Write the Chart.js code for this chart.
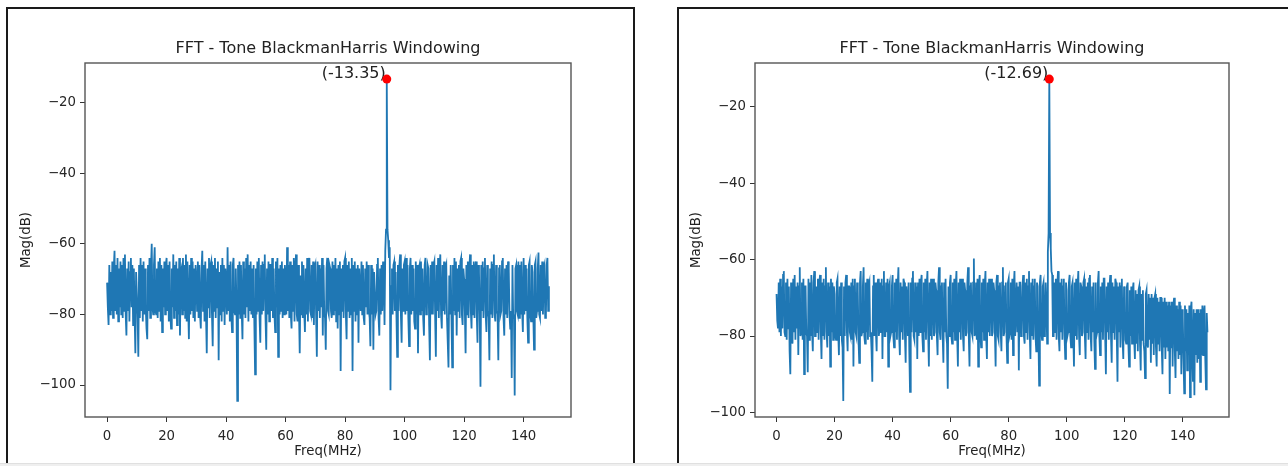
<!DOCTYPE html>
<html>
<head>
<meta charset="utf-8">
<script src="https://cdn.jsdelivr.net/npm/chart.js@4.4.1/dist/chart.umd.min.js"></script>
<style>
  html, body { margin: 0; padding: 0; background: #fff; }
  body { width: 1288px; height: 466px; position: relative; overflow: hidden; }
  .frame { position: absolute; border: 2px solid #1a1a1a; border-bottom: none; box-sizing: border-box; }
  #frameL { left: 6px; top: 7px; width: 629px; height: 457px; }
  #frameR { left: 677px; top: 7px; width: 620px; height: 457px; border-right: none; }
  .strip { position: absolute; left: 0; top: 463px; width: 1288px; height: 3px; background: #efefef; border-top: 1px solid #e0e0e0; }
  canvas { position: absolute; top: 0; filter: blur(0.4px); }
  #chartL { left: 0; }
  #chartR { left: 640px; }
</style>
</head>
<body>
<div class="frame" id="frameL"></div>
<div class="frame" id="frameR"></div>
<div class="strip"></div>
<canvas id="chartL" width="640" height="466"></canvas>
<canvas id="chartR" width="648" height="466"></canvas>
<script>
// tick labels
const xTicks = [0, 20, 40, 60, 80, 100, 120, 140];
const yTicks = [-100, -80, -60, -40, -20];

// FFT bins are 0.25 MHz apart, first bin at 0 MHz
const freqStep = 0.25;

// magnitude (dB) per bin, one row = 5 MHz
const magLeft = [
  -71, -78, -83, -66, -80, -68, -79, -65, -81, -67, -62, -79, -66, -80, -64, -82, -67, -78, -65, -80, // 0
  -66, -81, -64, -79, -63, -80, -86, -67, -79, -65, -82, -68, -64, -78, -66, -83, -67, -80, -91, -68, // 5
  -68, -80, -92, -66, -81, -64, -79, -66, -82, -65, -80, -67, -78, -84, -87, -66, -79, -64, -81, -67, // 10
  -60, -78, -80, -66, -61, -79, -80, -67, -81, -65, -79, -64, -82, -66, -85, -67, -78, -65, -80, -66, // 15
  -64, -79, -66, -82, -65, -80, -84, -67, -78, -63, -81, -66, -79, -65, -83, -67, -80, -64, -86, -68, // 20
  -67, -80, -64, -79, -66, -81, -63, -82, -65, -78, -87, -66, -80, -64, -79, -65, -81, -67, -82, -66, // 25
  -69, -79, -65, -81, -66, -80, -84, -67, -62, -79, -66, -82, -65, -80, -91, -67, -78, -64, -81, -66, // 30
  -65, -80, -89, -66, -79, -64, -81, -67, -78, -65, -93, -68, -80, -66, -82, -64, -79, -66, -83, -67, // 35
  -71, -80, -61, -79, -66, -82, -65, -80, -85, -66, -64, -79, -80, -67, -78, -104.5, -66, -80, -65, -81, // 40
  -66, -79, -87, -65, -80, -67, -81, -64, -78, -63, -82, -66, -79, -65, -80, -67, -81, -66, -83, -97, // 45
  -67, -80, -65, -79, -64, -81, -88, -66, -80, -65, -79, -66, -63, -81, -90, -67, -80, -65, -82, -66, // 50
  -66, -79, -64, -81, -67, -80, -85, -65, -78, -64, -92, -67, -80, -66, -79, -65, -81, -67, -80, -66, // 55
  -70, -80, -61, -79, -66, -81, -65, -80, -84, -66, -79, -64, -82, -67, -63, -80, -82, -66, -79, -91, // 60
  -69, -80, -65, -81, -66, -79, -85, -67, -80, -64, -82, -66, -64, -79, -80, -66, -81, -65, -83, -67, // 65
  -66, -80, -92, -65, -79, -66, -81, -67, -78, -64, -86, -66, -80, -81, -90, -67, -64, -79, -80, -66, // 70
  -67, -79, -81, -65, -80, -66, -79, -64, -82, -67, -84, -66, -80, -65, -96, -67, -79, -66, -81, -65, // 75
  -64, -80, -87, -66, -79, -65, -81, -67, -80, -64, -96, -66, -79, -65, -82, -67, -80, -66, -88, -67, // 80
  -67, -79, -65, -80, -66, -81, -83, -67, -78, -65, -80, -66, -79, -81, -89, -66, -80, -67, -90, -68, // 85
  -68, -80, -79, -66, -64, -81, -86, -67, -80, -66, -79, -65, -70, -83, -62, -56, -13.35, -56, -59, -64, // 90
  -61, -101.5, -72, -67, -80, -66, -65, -79, -68, -80, -92, -66, -79, -66, -63, -80, -88, -67, -79, -66, // 95
  -65, -80, -64, -79, -66, -81, -89, -67, -64, -80, -66, -79, -67, -82, -84, -65, -80, -66, -91, -67, // 100
  -66, -80, -65, -79, -67, -81, -86, -66, -64, -80, -79, -66, -67, -83, -93, -66, -80, -65, -80, -66, // 105
  -65, -80, -92, -66, -79, -64, -81, -67, -63, -80, -84, -66, -79, -65, -80, -67, -66, -81, -88, -95, // 110
  -69, -80, -66, -81, -95, -66, -79, -64, -80, -65, -86, -67, -79, -66, -81, -65, -64, -80, -83, -67, // 115
  -70, -79, -91, -66, -80, -65, -81, -67, -63, -79, -84, -66, -80, -65, -81, -67, -65, -80, -88, -66, // 120
  -68, -80, -100.5, -66, -79, -65, -81, -67, -64, -80, -85, -66, -79, -81, -93, -67, -80, -65, -81, -66, // 125
  -63, -80, -82, -66, -79, -80, -93, -67, -66, -80, -79, -65, -64, -81, -86, -67, -80, -66, -81, -65, // 130
  -67, -80, -84, -79, -98, -66, -81, -80, -103, -67, -66, -79, -80, -65, -81, -66, -80, -65, -79, -85, // 135
  -64, -80, -66, -79, -67, -81, -88, -66, -65, -80, -82, -66, -68, -80, -90, -66, -65, -81, -79, -67, // 140
  -62.5, -80, -81, -66, -79, -65, -80, -67, -66, -81, -80, -66, -64, -79, -72                       // 145
];

// same for the right plot
const magRight = [
  -69, -76, -78, -66, -79, -65, -80, -67, -78, -64, -63, -79, -80, -66, -81, -65, -78, -67, -84, -90, // 0
  -66, -80, -82, -65, -79, -64, -81, -67, -78, -66, -85, -67, -62, -80, -79, -66, -81, -65, -90, -67, // 5
  -67, -79, -80, -89.5, -65, -81, -66, -80, -64, -79, -84, -66, -63, -80, -80, -67, -79, -65, -81, -66, // 10
  -64, -79, -86, -66, -80, -65, -81, -67, -62, -79, -83, -66, -80, -67, -88, -65, -79, -66, -81, -67, // 15
  -69, -80, -81, -66, -65, -79, -85, -67, -80, -66, -81, -83, -97, -67, -80, -66, -64, -79, -84, -67, // 20
  -67, -79, -80, -66, -81, -65, -88, -67, -65, -79, -80, -66, -68, -81, -87, -66, -63, -80, -79, -67, // 25
  -62, -80, -82, -66, -79, -65, -81, -67, -66, -80, -79, -84, -92, -67, -64, -80, -66, -79, -84, -67, // 30
  -65, -80, -78, -66, -79, -65, -86, -67, -63, -80, -80, -66, -79, -65, -88, -67, -66, -80, -79, -67, // 35
  -64, -80, -83, -66, -79, -65, -81, -67, -62, -80, -85, -66, -79, -67, -81, -65, -66, -80, -87, -67, // 40
  -70, -80, -66, -84, -94.6, -66, -79, -65, -63, -80, -81, -66, -79, -67, -86, -66, -80, -65, -79, -66, // 45
  -64, -80, -84, -66, -79, -65, -81, -67, -63, -79, -88, -66, -80, -65, -81, -67, -65, -80, -79, -66, // 50
  -68, -80, -85, -66, -62, -79, -81, -67, -66, -80, -87, -66, -79, -65, -80, -82, -93.8, -67, -80, -66, // 55
  -64, -80, -82, -66, -79, -65, -81, -67, -63, -80, -88, -66, -79, -65, -81, -67, -65, -80, -84, -66, // 60
  -68, -80, -79, -66, -62, -80, -88, -67, -66, -79, -80, -66, -59.7, -80, -79, -66, -81, -65, -88, -67, // 65
  -64, -80, -83, -66, -79, -65, -81, -67, -63, -80, -86, -66, -79, -65, -80, -67, -65, -80, -79, -66, // 70
  -68, -79, -88, -66, -64, -80, -81, -67, -66, -79, -84, -66, -62, -80, -79, -67, -66, -80, -87, -66, // 75
  -65, -80, -79, -66, -81, -65, -85, -67, -63, -80, -80, -66, -79, -67, -89, -66, -66, -80, -79, -67, // 80
  -64, -80, -82, -66, -79, -65, -81, -67, -63, -79, -86, -66, -80, -65, -81, -67, -65, -80, -84, -66, // 85
  -67, -80, -93, -66, -64, -79, -81, -67, -66, -80, -79, -66, -71, -82, -58, -53, -12.69, -53, -57, -63, // 90
  -64, -80, -80, -66, -79, -65, -81, -67, -63, -80, -84, -66, -79, -65, -81, -67, -65, -80, -86, -66, // 95
  -68, -80, -79, -66, -64, -80, -83, -67, -66, -79, -88, -66, -80, -65, -81, -67, -63, -80, -85, -66, // 100
  -67, -80, -79, -66, -65, -80, -86, -67, -79, -66, -81, -65, -64, -80, -84, -67, -79, -66, -81, -88.6, // 105
  -66, -80, -79, -66, -63, -80, -85, -67, -79, -66, -81, -65, -65, -80, -90, -67, -79, -66, -81, -67, // 110
  -64, -80, -87, -66, -79, -67, -81, -65, -66, -80, -92, -67, -79, -66, -83, -67, -65, -81, -86, -67, // 115
  -68, -81, -82, -67, -66, -82, -88, -68, -80, -67, -82, -68, -66, -81, -86, -68, -82, -69, -84, -68, // 120
  -67, -82, -89, -69, -81, -68, -82, -84, -91, -69, -68, -82, -83, -69, -81, -70, -87, -69, -82, -70, // 125
  -85, -70, -69, -83, -88, -70, -82, -71, -84, -70, -70, -83, -90, -71, -83, -70, -86, -71, -83, -72, // 130
  -84, -71, -95.2, -72, -83, -71, -88, -72, -70, -84, -91, -72, -84, -73, -86, -71, -85, -72, -90, -73, // 135
  -75, -86, -95, -72, -84, -73, -89, -74, -85, -72, -96, -73, -71, -85, -92, -73, -95.5, -74, -85, -73, // 140
  -87, -73, -86, -74, -92, -73, -85, -72, -85, -74, -72, -86, -94, -74, -79                           // 145
];

const peakLeft = { freq: 94, mag: -13.35 };
const peakRight = { freq: 94, mag: -12.69 };

const titleText = 'FFT - Tone BlackmanHarris Windowing';

Chart.defaults.font.family = '"DejaVu Sans", sans-serif';

// matplotlib style autoscale: 5% margin on each side
function padRange(lo, hi) {
  const m = (hi - lo) * 0.05;
  return [lo - m, hi + m];
}

function minusSign(v) {
  return String(v).replace('-', '\u2212');
}

// axes box, title, axis labels and the peak annotation
const mplDecor = {
  id: 'mplDecor',
  beforeDatasetsDraw(chart, args, opts) {
    const ctx = chart.ctx;
    const px = chart.scales.x.getPixelForValue(opts.peak.freq);
    const py = chart.scales.y.getPixelForValue(opts.peak.mag);
    ctx.save();
    ctx.fillStyle = '#222';
    ctx.font = '16px "DejaVu Sans"';
    ctx.textAlign = 'right';
    ctx.textBaseline = 'alphabetic';
    ctx.fillText('(' + opts.peak.mag.toFixed(2) + ')', px - 1, py - 1);
    ctx.restore();
  },
  afterDraw(chart, args, opts) {
    const ctx = chart.ctx;
    const a = chart.chartArea;
    ctx.save();
    ctx.strokeStyle = '#555';
    ctx.lineWidth = 1.4;
    ctx.strokeRect(a.left, a.top, a.right - a.left, a.bottom - a.top);

    ctx.fillStyle = '#222';
    ctx.font = '16px "DejaVu Sans"';
    ctx.textAlign = 'center';
    ctx.textBaseline = 'alphabetic';
    ctx.fillText(titleText, (a.left + a.right) / 2, a.top - 10);

    ctx.font = '13.3px "DejaVu Sans"';
    ctx.textBaseline = 'middle';
    ctx.fillText('Freq(MHz)', (a.left + a.right) / 2, a.bottom + 35);

    ctx.translate(a.left - 58, (a.top + a.bottom) / 2);
    ctx.rotate(-Math.PI / 2);
    ctx.fillText('Mag(dB)', 0, 0);
    ctx.restore();
  }
};

function makeChart(canvasId, mags, peak, area) {
  const points = mags.map((v, i) => ({ x: i * freqStep, y: v }));
  const [xMin, xMax] = padRange(0, (mags.length - 1) * freqStep);
  const [yMin, yMax] = padRange(Math.min(...mags), Math.max(...mags));
  const canvas = document.getElementById(canvasId);

  const tickStyle = {
    color: '#262626',
    font: { size: 13.3 },
    padding: 4,
    autoSkip: false,
    maxRotation: 0,
    callback: minusSign
  };
  const gridStyle = {
    display: true,
    drawOnChartArea: false,
    drawTicks: true,
    tickLength: 5,
    color: '#333',
    lineWidth: 1
  };

  return new Chart(canvas, {
    type: 'line',
    data: {
      datasets: [
        {
          type: 'scatter',
          data: [{ x: peak.freq, y: peak.mag }],
          pointRadius: 4.5,
          pointBackgroundColor: '#ff0000',
          pointBorderWidth: 0,
          order: 0
        },
        {
          data: points,
          borderColor: '#1f77b4',
          borderWidth: 1.8,
          pointRadius: 0,
          tension: 0,
          fill: false,
          order: 1
        }
      ]
    },
    options: {
      responsive: false,
      animation: false,
      devicePixelRatio: 1,
      layout: { padding: { left: 0, top: area.top, right: canvas.width - area.right, bottom: 0 } },
      plugins: {
        legend: { display: false },
        tooltip: { enabled: false },
        mplDecor: { peak: peak }
      },
      scales: {
        x: {
          type: 'linear',
          min: xMin,
          max: xMax,
          afterBuildTicks: s => { s.ticks = xTicks.map(v => ({ value: v })); },
          afterFit: s => { s.height = canvas.height - area.bottom; },
          border: { display: false },
          grid: gridStyle,
          ticks: Object.assign({}, tickStyle, { padding: 7 })
        },
        y: {
          type: 'linear',
          min: yMin,
          max: yMax,
          afterBuildTicks: s => { s.ticks = yTicks.map(v => ({ value: v })); },
          afterFit: s => { s.width = area.left; },
          border: { display: false },
          grid: gridStyle,
          ticks: tickStyle
        }
      }
    },
    plugins: [mplDecor]
  });
}

makeChart('chartL', magLeft, peakLeft, { left: 85, top: 63, right: 571, bottom: 417 });
makeChart('chartR', magRight, peakRight, { left: 115, top: 63, right: 589, bottom: 417 });
</script>
</body>
</html>
